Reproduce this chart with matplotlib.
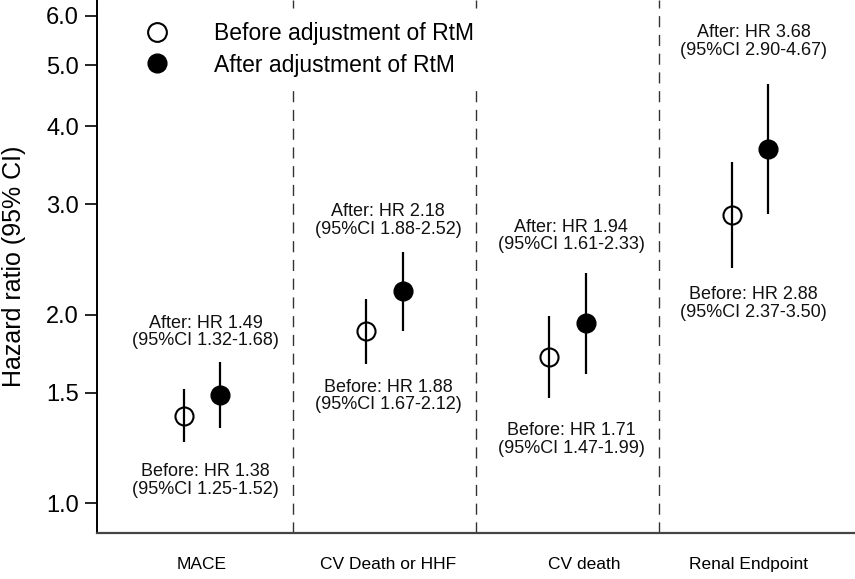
import matplotlib
matplotlib.use("Agg")
import matplotlib.pyplot as plt
from matplotlib.lines import Line2D
import numpy as np

plt.rcParams['font.family'] = ['Liberation Sans', 'DejaVu Sans']

# Outcomes and hazard ratios (with 95% CI) before / after RtM adjustment
categories = ["MACE", "CV Death or HHF", "CV death", "Renal Endpoint"]
hr_before = [1.38, 1.88, 1.71, 2.88]
lo_before = [1.25, 1.67, 1.47, 2.37]
hi_before = [1.52, 2.12, 1.99, 3.50]
hr_after = [1.49, 2.18, 1.94, 3.68]
lo_after = [1.32, 1.88, 1.61, 2.90]
hi_after = [1.68, 2.52, 2.33, 4.67]

ytick_vals = [1.0, 1.5, 2.0, 3.0, 4.0, 5.0, 6.0]

# Layout: vertical placement of the annotation blocks (data units)
after_label_y = [1.876, 2.828, 2.671, 5.463]
before_label_y = [1.088, 1.482, 1.263, 2.083]
xlabel_shift = [0.0, 0.018, 0.09, -0.007]

fig = plt.figure(figsize=(8.55, 5.79), dpi=100)
ax = fig.add_axes([97 / 855, 46 / 579, 1 - 97 / 855, 533 / 579])
ax.set_yscale('log')

x = np.arange(1, len(categories) + 1)
off = 0.1

for i in range(len(categories)):
    ax.errorbar(x[i] - off, hr_before[i],
                yerr=[[hr_before[i] - lo_before[i]], [hi_before[i] - hr_before[i]]],
                fmt='o', ms=13, mfc='none', mec='black', mew=1.5,
                ecolor='black', elinewidth=1.6, capsize=0, zorder=3)
    ax.errorbar(x[i] + off, hr_after[i],
                yerr=[[hr_after[i] - lo_after[i]], [hi_after[i] - hr_after[i]]],
                fmt='o', ms=13.5, mfc='black', mec='black', mew=1.0,
                ecolor='black', elinewidth=1.6, capsize=0, zorder=3)
    ax.text(x[i] + 0.02, after_label_y[i],
            f"After: HR {hr_after[i]:.2f}\n(95%CI {lo_after[i]:.2f}-{hi_after[i]:.2f})",
            ha='center', va='center', fontsize=13, linespacing=1.05, color='#111111')
    ax.text(x[i] + 0.02, before_label_y[i],
            f"Before: HR {hr_before[i]:.2f}\n(95%CI {lo_before[i]:.2f}-{hi_before[i]:.2f})",
            ha='center', va='center', fontsize=13, linespacing=1.05, color='#111111')

# Dashed separators between outcomes
for xs in x[:-1] + 0.5:
    ax.axvline(xs, color='#333333', lw=1.0, ls=(0, (8, 5.5)), zorder=1)

ax.set_xlim(0.425, 4.575)
ax.set_ylim(0.896, 6.36)

ax.set_yticks(ytick_vals)
ax.set_yticklabels([f"{v:.1f}" for v in ytick_vals])
ax.yaxis.set_minor_locator(matplotlib.ticker.NullLocator())
ax.tick_params(axis='y', length=9, width=1.2, pad=4, labelsize=17, colors='black')

ax.set_xticks(x + np.array(xlabel_shift))
ax.set_xticklabels(categories)
ax.tick_params(axis='x', length=0, pad=17, labelsize=12.5)

for s in ['top', 'right']:
    ax.spines[s].set_visible(False)
ax.spines['left'].set_linewidth(1.4)
ax.spines['left'].set_color('black')
ax.spines['bottom'].set_linewidth(1.6)
ax.spines['bottom'].set_color('#444444')

fig.text(14 / 855, 312.5 / 579, "Hazard ratio (95% CI)", rotation=90,
         ha='center', va='center', fontsize=18)

handles = [
    Line2D([], [], ls='none', marker='o', ms=13.5, mfc='none', mec='black', mew=1.5),
    Line2D([], [], ls='none', marker='o', ms=13.5, mfc='black', mec='black'),
]
leg = ax.legend(handles, ["Before adjustment of RtM", "After adjustment of RtM"],
                loc='upper left', bbox_to_anchor=(0.052, 0.975), borderaxespad=0,
                fontsize=16.5, handlelength=1.0, handletextpad=2.0,
                labelspacing=0.35, borderpad=0.4, frameon=True, fancybox=False,
                framealpha=1, facecolor='white', edgecolor='none')
leg.set_zorder(5)

fig.savefig("out.png", dpi=100)
